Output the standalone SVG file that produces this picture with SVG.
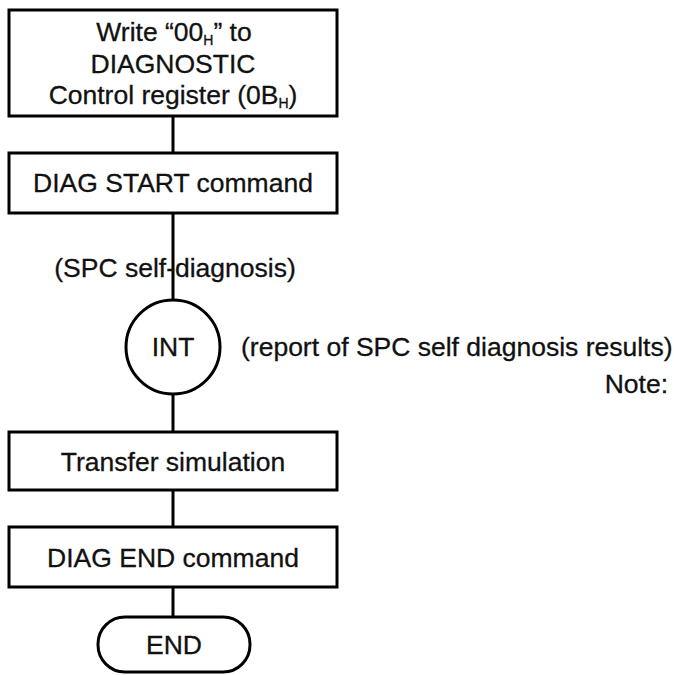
<svg xmlns="http://www.w3.org/2000/svg" width="674" height="675" viewBox="0 0 674 675">
<style>
.box{fill:#fff;stroke:#000;stroke-width:3}
.ln{stroke:#000;stroke-width:3;fill:none}
text{font-family:"Liberation Sans",Arial,sans-serif;font-size:26.5px;fill:#111;stroke:#111;stroke-width:0.3}
.c{text-anchor:middle}
.sub{font-size:14px}
</style>
<rect width="674" height="675" fill="#fff"/>
<g id="connectors">
<line class="ln" x1="173" y1="116" x2="173" y2="153"/>
<line class="ln" x1="173" y1="213" x2="173" y2="299"/>
<line class="ln" x1="173" y1="395" x2="173" y2="432"/>
<line class="ln" x1="173" y1="490" x2="173" y2="527"/>
<line class="ln" x1="173" y1="587" x2="173" y2="617"/>
</g>
<g id="write">
<rect class="box" x="9" y="10" width="328" height="106"/>
<text class="c" x="174" y="41">Write “00<tspan class="sub" dy="4">H</tspan><tspan dy="-4">” to</tspan></text>
<text class="c" x="173" y="73">DIAGNOSTIC</text>
<text class="c" x="173" y="104">Control register (0B<tspan class="sub" dy="4">H</tspan><tspan dy="-4">)</tspan></text>
</g>
<g id="diagstart">
<rect class="box" x="9" y="153" width="328" height="60"/>
<text class="c" x="173" y="192">DIAG START command</text>
</g>
<g id="selfdiag">
<text class="c" x="175" y="277">(SPC self-diagnosis)</text>
</g>
<g id="int">
<circle class="box" cx="173" cy="347" r="47"/>
<text class="c" x="173" y="356">INT</text>
</g>
<g id="report">
<text x="241" y="356">(report of SPC self diagnosis results)</text>
<text x="668" y="393" text-anchor="end">Note:</text>
</g>
<g id="transfer">
<rect class="box" x="9" y="432" width="328" height="58"/>
<text class="c" x="173" y="471">Transfer simulation</text>
</g>
<g id="diagend">
<rect class="box" x="9" y="527" width="328" height="60"/>
<text class="c" x="173" y="567">DIAG END command</text>
</g>
<g id="end">
<rect class="box" x="98" y="617" width="152" height="55" rx="27" ry="27"/>
<text class="c" x="174" y="654">END</text>
</g>
</svg>
